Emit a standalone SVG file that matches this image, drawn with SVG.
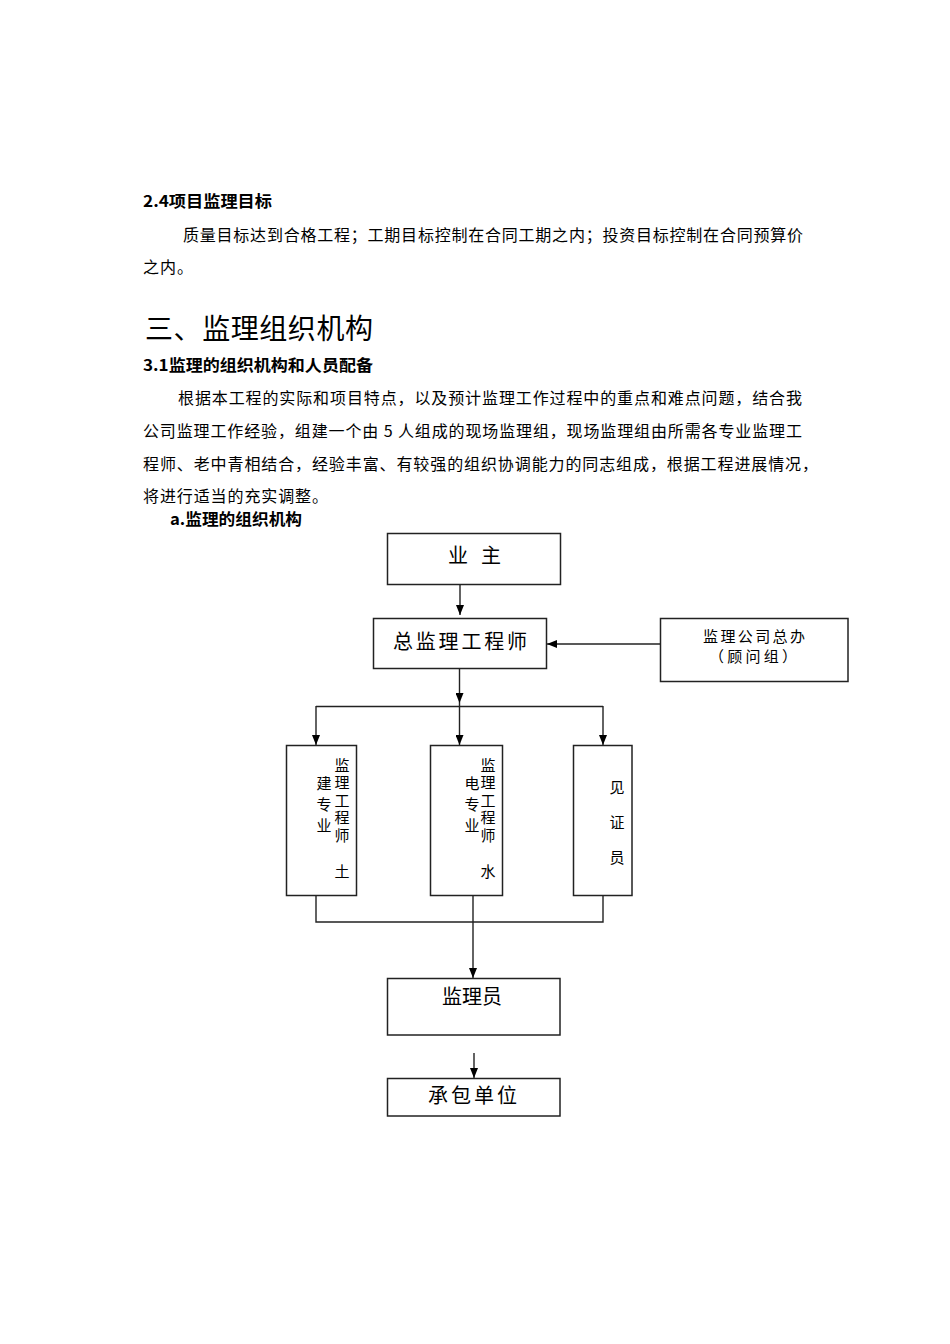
<svg xmlns="http://www.w3.org/2000/svg" width="950" height="1344" viewBox="0 0 950 1344">
<style>
text{font-family:"Noto Sans CJK SC","Noto Sans",sans-serif;fill:#000}
.h{font-size:16px;font-weight:bold}
.b{font-size:16px}
.t{font-size:28px}
.n{font-size:20px;text-anchor:middle}
.s{font-size:15px;text-anchor:middle}
.v{font-size:15px;text-anchor:middle}
.vc{font-size:15px;writing-mode:vertical-rl}
.box{fill:#fff;stroke:#222;stroke-width:1.5}
.ln{fill:none;stroke:#222;stroke-width:1.4}
</style>
<defs>
<marker id="ah" markerUnits="userSpaceOnUse" markerWidth="10" markerHeight="8" refX="10" refY="4" orient="auto">
<path d="M0,0 L10,4 L0,8 z" fill="#000"/>
</marker>
</defs>
<rect width="950" height="1344" fill="#fff"/>
<g id="text">
<text class="h" x="143" y="207" textLength="129" lengthAdjust="spacingAndGlyphs">2.4项目监理目标</text>
<text class="b" x="183" y="241" textLength="620" lengthAdjust="spacing">质量目标达到合格工程；工期目标控制在合同工期之内；投资目标控制在合同预算价</text>
<text class="b" x="143" y="273" textLength="50" lengthAdjust="spacing">之内。</text>
<text class="t" x="145" y="339" textLength="228" lengthAdjust="spacing">三、监理组织机构</text>
<text class="h" x="143" y="370.5" textLength="230" lengthAdjust="spacingAndGlyphs">3.1监理的组织机构和人员配备</text>
<text class="b" x="178" y="404" textLength="624" lengthAdjust="spacing">根据本工程的实际和项目特点，以及预计监理工作过程中的重点和难点问题，结合我</text>
<text class="b" x="143" y="437" textLength="659" lengthAdjust="spacing">公司监理工作经验，组建一个由 5 人组成的现场监理组，现场监理组由所需各专业监理工</text>
<text class="b" x="143" y="470" textLength="675" lengthAdjust="spacing">程师、老中青相结合，经验丰富、有较强的组织协调能力的同志组成，根据工程进展情况，</text>
<text class="b" x="143" y="502" textLength="185" lengthAdjust="spacing">将进行适当的充实调整。</text>
<text class="h" x="170" y="525" textLength="132" lengthAdjust="spacingAndGlyphs">a.监理的组织机构</text>
</g>
<g id="connectors">
<line class="ln" x1="460" y1="585" x2="460" y2="615" marker-end="url(#ah)"/>
<line class="ln" x1="660" y1="644" x2="547" y2="644" marker-end="url(#ah)"/>
<line class="ln" x1="459.5" y1="669" x2="459.5" y2="703" marker-end="url(#ah)"/>
<line class="ln" x1="316" y1="706.5" x2="603" y2="706.5"/>
<line class="ln" x1="316" y1="706" x2="316" y2="745" marker-end="url(#ah)"/>
<line class="ln" x1="459.5" y1="703" x2="459.5" y2="745" marker-end="url(#ah)"/>
<line class="ln" x1="603" y1="706" x2="603" y2="745" marker-end="url(#ah)"/>
<path class="ln" d="M316,896 V922 H603 V896"/>
<line class="ln" x1="473" y1="896" x2="473" y2="978" marker-end="url(#ah)"/>
<line class="ln" x1="474" y1="1053" x2="474" y2="1078" marker-end="url(#ah)"/>
</g>
<g id="owner">
<rect class="box" x="387.5" y="533.5" width="173" height="51"/>
<text class="n" x="458" y="562.5">业</text>
<text class="n" x="491" y="562.5">主</text>
</g>
<g id="chief">
<rect class="box" x="373.5" y="618.5" width="173" height="50"/>
<text class="n" x="393" y="649" style="text-anchor:start" textLength="134" lengthAdjust="spacing">总监理工程师</text>
</g>
<g id="office">
<rect class="box" x="660.5" y="618.5" width="187.5" height="63"/>
<text class="s" x="754" y="642" textLength="102" lengthAdjust="spacing">监理公司总办</text>
<text class="s" x="753" y="662" textLength="88" lengthAdjust="spacing">（顾问组）</text>
</g>
<g id="civil">
<rect class="box" x="286.5" y="745.5" width="70" height="150"/>
<text class="vc" x="342" y="757.5" letter-spacing="2.5">监理工程师</text>
<text class="vc" x="324" y="775.5" letter-spacing="6">建专业</text>
<text class="v" x="342" y="877">土</text>
</g>
<g id="mep">
<rect class="box" x="430.5" y="745.5" width="72" height="150"/>
<text class="vc" x="488" y="757.5" letter-spacing="2.5">监理工程师</text>
<text class="vc" x="472" y="775.5" letter-spacing="6">电专业</text>
<text class="v" x="488" y="877">水</text>
</g>
<g id="witness">
<rect class="box" x="573.5" y="745.5" width="58.5" height="150"/>
<text class="vc" x="617" y="779.5" letter-spacing="20">见证员</text>
</g>
<g id="supervisor">
<rect class="box" x="387.5" y="978.5" width="172.5" height="56.5"/>
<text class="n" x="472" y="1003.5">监理员</text>
</g>
<g id="contractor">
<rect class="box" x="387.5" y="1078.5" width="172.5" height="37.5"/>
<text class="n" x="428" y="1102.5" style="text-anchor:start" textLength="89" lengthAdjust="spacing">承包单位</text>
</g>
</svg>
